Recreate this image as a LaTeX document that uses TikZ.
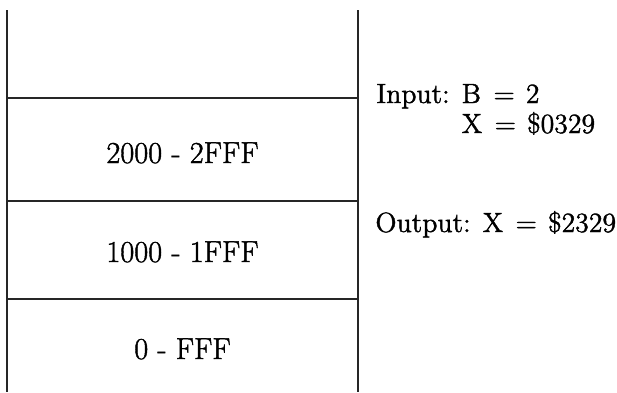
\documentclass[tikz,border=0pt]{standalone}
\usepackage{fontspec}
\setmainfont{Latin Modern Roman}[FakeBold=1.4]
\newcommand{\eqsp}{\hspace{0.45em}=\hspace{0.4em}}
\begin{document}
\begin{tikzpicture}[x=0.5pt,y=-0.5pt,
  wall/.style={line width=0.8pt,black!85},
  cellsep/.style={line width=0.8pt,black!85},
  cellname/.style={anchor=base,inner sep=0pt,font=\fontsize{15.2}{17}\selectfont},
  note/.style={anchor=base west,inner sep=0pt,align=left,font=\fontsize{13.9}{15}\selectfont}]
  \useasboundingbox (0,0) rectangle (617,392);
  % memory column
  \coordinate (tl) at (7,10);
  \coordinate (tr) at (358,10);
  \coordinate (bl) at (7,392);
  \coordinate (br) at (358,392);
  \draw[wall] (tl) -- (bl);
  \draw[wall] (tr) -- (br);
  \coordinate (a1) at (7,98);   \coordinate (b1) at (358,98);
  \coordinate (a2) at (7,201);  \coordinate (b2) at (358,201);
  \coordinate (a3) at (7,299);  \coordinate (b3) at (358,299);
  \draw[cellsep] (a1) -- (b1);
  \draw[cellsep] (a2) -- (b2);
  \draw[cellsep] (a3) -- (b3);
  % bank address ranges
  \node[cellname] (bank2) at (182.5,163) {2000 - 2FFF};
  \node[cellname] (bank1) at (182.5,262) {1000 - 1FFF};
  \node[cellname] (bank0) at (182.5,359) {0 - FFF};
  % register values (the node's base is its last line)
  \node[note] (in) at (376,133) {Input: B\eqsp 2\\\phantom{Input: }X\eqsp \$0329};
  \node[note] (out) at (375,232) {Output: X\eqsp \$2329};
\end{tikzpicture}
\end{document}
